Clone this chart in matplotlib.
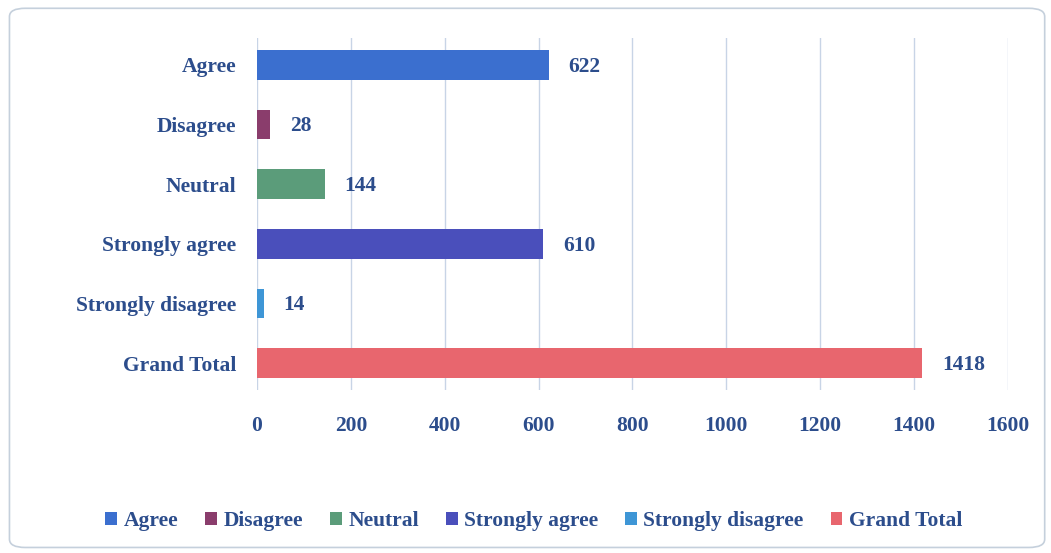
import matplotlib
matplotlib.use('Agg')
import matplotlib.pyplot as plt
from matplotlib.patches import FancyBboxPatch, Patch

categories = ['Agree', 'Disagree', 'Neutral', 'Strongly agree',
              'Strongly disagree', 'Grand Total']
values = [622, 28, 144, 610, 14, 1418]
colors = ['#3b6fcf', '#8a3d6c', '#5b9c7a', '#4a4fbb', '#3e96d6', '#e8666e']
xticks = [0, 200, 400, 600, 800, 1000, 1200, 1400, 1600]

txt = '#2c4d8c'
plt.rcParams['font.family'] = ['Liberation Serif', 'DejaVu Serif']
plt.rcParams['font.weight'] = 'bold'

fig = plt.figure(figsize=(10.51, 5.53), dpi=100)
fig.patches.append(FancyBboxPatch((0.009, 0.01), 0.985, 0.975,
                                  boxstyle='round,pad=0,rounding_size=0.015',
                                  transform=fig.transFigure, fill=False,
                                  edgecolor='#c5d0dc', linewidth=1.2))

ax = fig.add_axes([0.2445, 0.295, 0.7145, 0.636])
ypos = list(range(len(categories)))
ax.barh(ypos, values, height=0.5, color=colors, zorder=3)
for y, v in zip(ypos, values):
    ax.text(v + 42, y + 0.03, str(v), va='center', ha='left', fontsize=15.5,
            color=txt, fontweight='bold')

ax.set_xlim(0, 1600)
ax.set_ylim(5.45, -0.45)
ax.set_xticks(xticks)
ax.set_yticks(ypos)
ax.set_yticklabels(categories)
ax.tick_params(axis='both', length=0, labelsize=15.5, labelcolor=txt)
ax.tick_params(axis='x', pad=19)
ax.tick_params(axis='y', pad=15)
ax.grid(axis='x', color='#c8d4e6', linewidth=1, zorder=0)
for s in ax.spines.values():
    s.set_visible(False)

handles = [Patch(facecolor=c, label=l) for c, l in zip(colors, categories)]
fig.legend(handles=handles, loc='center', bbox_to_anchor=(0.508, 0.057),
           ncol=6, frameon=False, fontsize=15.5, labelcolor=txt,
           handlelength=0.55, handleheight=0.55, handletextpad=0.3,
           columnspacing=1.25)

fig.savefig('out.png', dpi=100)
